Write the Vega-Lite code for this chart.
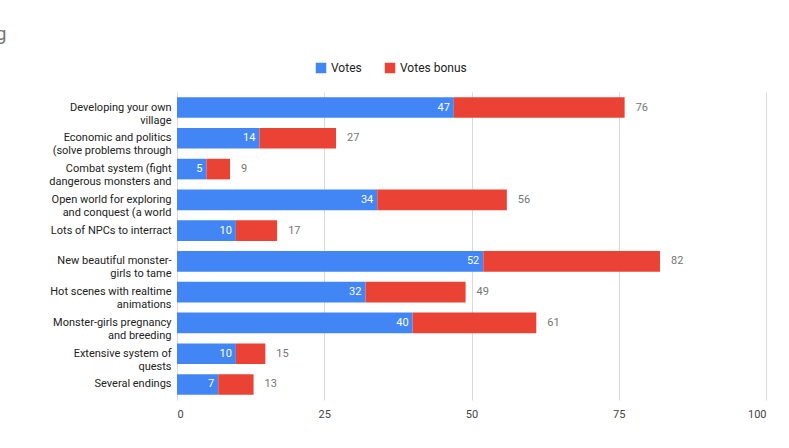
{
  "$schema": "https://vega.github.io/schema/vega-lite/v6.json",
  "width": 589,
  "height": 308,
  "autosize": "none",
  "padding": {"left": 177, "top": 92, "right": 23, "bottom": 48},
  "background": "white",
  "title": {"text": "Patron voting", "anchor": "start", "dx": -155, "offset": 18, "fontSize": 19, "fontWeight": "normal", "color": "#757575", "font": "Roboto"},
  "datasets": {
    "rows": [
      {"item": "Developing your own|village", "votes": 47, "total": 76},
      {"item": "Economic and politics|(solve problems through", "votes": 14, "total": 27},
      {"item": "Combat system (fight|dangerous monsters and", "votes": 5, "total": 9},
      {"item": "Open world for exploring|and conquest (a world", "votes": 34, "total": 56},
      {"item": "Lots of NPCs to interract", "votes": 10, "total": 17},
      {"item": "New beautiful monster-|girls to tame", "votes": 52, "total": 82},
      {"item": "Hot scenes with realtime|animations", "votes": 32, "total": 49},
      {"item": "Monster-girls pregnancy|and breeding", "votes": 40, "total": 61},
      {"item": "Extensive system of|quests", "votes": 10, "total": 15},
      {"item": "Several endings", "votes": 7, "total": 13}
    ],
    "long": [
      {"item": "Developing your own|village", "series": "Votes", "k": 0, "v": 47},
      {"item": "Developing your own|village", "series": "Votes bonus", "k": 1, "v": 29},
      {"item": "Economic and politics|(solve problems through", "series": "Votes", "k": 0, "v": 14},
      {"item": "Economic and politics|(solve problems through", "series": "Votes bonus", "k": 1, "v": 13},
      {"item": "Combat system (fight|dangerous monsters and", "series": "Votes", "k": 0, "v": 5},
      {"item": "Combat system (fight|dangerous monsters and", "series": "Votes bonus", "k": 1, "v": 4},
      {"item": "Open world for exploring|and conquest (a world", "series": "Votes", "k": 0, "v": 34},
      {"item": "Open world for exploring|and conquest (a world", "series": "Votes bonus", "k": 1, "v": 22},
      {"item": "Lots of NPCs to interract", "series": "Votes", "k": 0, "v": 10},
      {"item": "Lots of NPCs to interract", "series": "Votes bonus", "k": 1, "v": 7},
      {"item": "New beautiful monster-|girls to tame", "series": "Votes", "k": 0, "v": 52},
      {"item": "New beautiful monster-|girls to tame", "series": "Votes bonus", "k": 1, "v": 30},
      {"item": "Hot scenes with realtime|animations", "series": "Votes", "k": 0, "v": 32},
      {"item": "Hot scenes with realtime|animations", "series": "Votes bonus", "k": 1, "v": 17},
      {"item": "Monster-girls pregnancy|and breeding", "series": "Votes", "k": 0, "v": 40},
      {"item": "Monster-girls pregnancy|and breeding", "series": "Votes bonus", "k": 1, "v": 21},
      {"item": "Extensive system of|quests", "series": "Votes", "k": 0, "v": 10},
      {"item": "Extensive system of|quests", "series": "Votes bonus", "k": 1, "v": 5},
      {"item": "Several endings", "series": "Votes", "k": 0, "v": 7},
      {"item": "Several endings", "series": "Votes bonus", "k": 1, "v": 6}
    ]
  },
  "encoding": {
    "y": {
      "field": "item", "type": "nominal", "sort": null, "title": null,
      "scale": {"paddingInner": 0.33, "paddingOuter": 0.17},
      "axis": {"labelExpr": "split(datum.label, '|')", "labelFontSize": 11, "labelColor": "#222", "labelFont": "Roboto", "ticks": false, "domain": false, "labelPadding": 6, "labelLineHeight": 13}
    }
  },
  "layer": [
    {
      "data": {"name": "long"},
      "mark": {"type": "bar"},
      "encoding": {
        "x": {"field": "v", "type": "quantitative", "stack": "zero", "title": null,
          "scale": {"domain": [0, 100]},
          "axis": {"values": [0, 25, 50, 75, 100], "gridColor": "#d9d9d9", "domain": false, "ticks": false, "labelFontSize": 11, "labelColor": "#444", "labelFont": "Roboto", "labelPadding": 8}},
        "color": {"field": "series", "type": "nominal",
          "scale": {"domain": ["Votes", "Votes bonus"], "range": ["#4285F4", "#EA4335"]},
          "legend": {"title": null, "orient": "none", "legendX": 138, "legendY": -30, "direction": "horizontal", "symbolType": "square", "symbolSize": 110, "labelFontSize": 12, "labelFont": "Roboto", "labelColor": "#222", "columnPadding": 22}},
        "order": {"field": "k"}
      }
    },
    {
      "data": {"name": "rows"},
      "mark": {"type": "text", "align": "right", "dx": -4, "color": "white", "fontSize": 11, "font": "Roboto"},
      "encoding": {"x": {"field": "votes", "type": "quantitative"}, "text": {"field": "votes"}}
    },
    {
      "data": {"name": "rows"},
      "mark": {"type": "text", "align": "left", "dx": 11, "color": "#757575", "fontSize": 11, "font": "Roboto"},
      "encoding": {"x": {"field": "total", "type": "quantitative"}, "text": {"field": "total"}}
    }
  ],
  "config": {"view": {"stroke": null}}
}
